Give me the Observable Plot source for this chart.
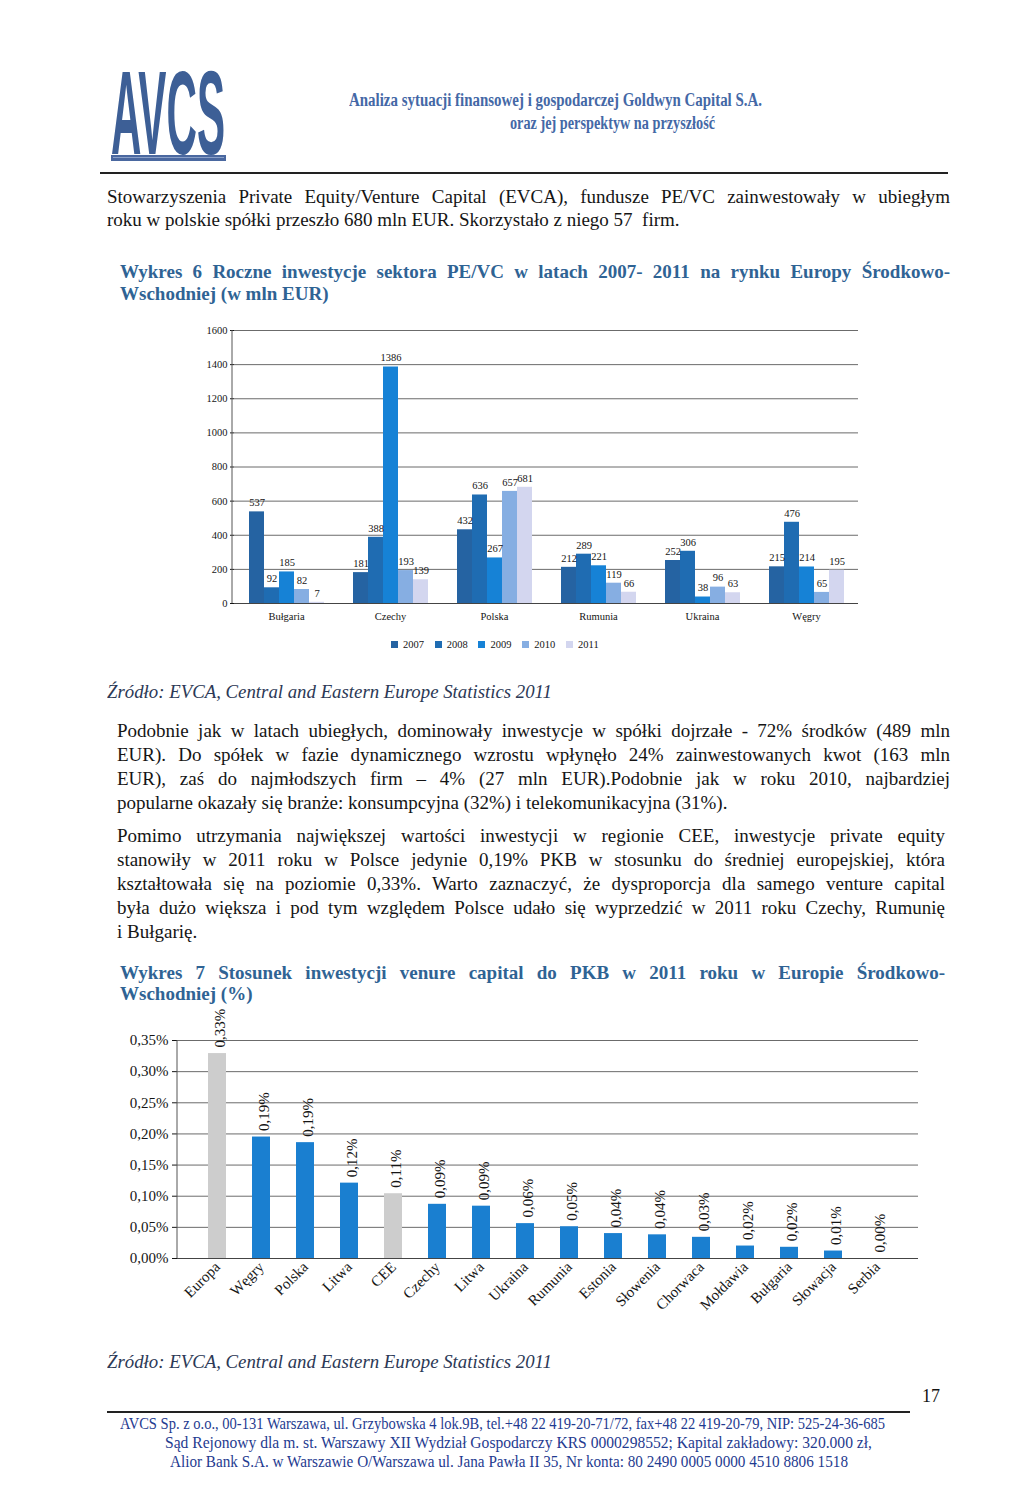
<!DOCTYPE html>
<html><head><meta charset="utf-8">
<script src="https://cdn.jsdelivr.net/npm/d3@7"></script>
<script src="https://cdn.jsdelivr.net/npm/@observablehq/plot@0.6"></script>
<style>
body{margin:0;background:#fff;}
#page{position:relative;width:1024px;height:1495px;overflow:hidden;font-family:"Liberation Serif","Times New Roman",serif;color:#151515;background:#fff;}
.abs{position:absolute;}
#legend1{position:absolute;left:300px;width:400px;top:628px;display:flex;justify-content:center;}
</style></head>
<body><div id="page"></div>
<script>
// ---------- Chart 1 data ----------
const countries = ["Bułgaria","Czechy","Polska","Rumunia","Ukraina","Węgry"];
const years = ["2007","2008","2009","2010","2011"];
const v2007 = [537,181,432,212,252,215];
const v2008 = [92,388,636,289,306,476];
const v2009 = [185,1386,267,221,38,214];
const v2010 = [82,193,657,119,96,65];
const v2011 = [7,139,681,66,63,195];
const yTicks1 = [0,200,400,600,800,1000,1200,1400,1600];
const yearColors = ["#2563a2","#1f6cb2","#1682d6","#86aee2","#d3d6ef"];

// ---------- Chart 2 data ----------
const gdpLabels = ["Europa","Węgry","Polska","Litwa","CEE","Czechy","Litwa","Ukraina","Rumunia","Estonia","Słowenia","Chorwaca","Mołdawia","Bułgaria","Słowacja","Serbia"];
const gdpValues = [0.329,0.195,0.186,0.121,0.104,0.087,0.084,0.056,0.051,0.040,0.038,0.034,0.020,0.018,0.012,0.0];
const gdpText = ["0,33%","0,19%","0,19%","0,12%","0,11%","0,09%","0,09%","0,06%","0,05%","0,04%","0,04%","0,03%","0,02%","0,02%","0,01%","0,00%"];
const aggregates = ["Europa","CEE"];
const yTicks2 = [0,0.05,0.10,0.15,0.20,0.25,0.30,0.35];

// ---------- page texts ----------
const headerLines = ["Analiza sytuacji finansowej i gospodarczej Goldwyn Capital S.A.","oraz jej perspektyw na przyszłość"];
const p1 = ["Stowarzyszenia Private Equity/Venture Capital (EVCA), fundusze PE/VC zainwestowały w ubiegłym","roku w polskie spółki przeszło 680 mln EUR. Skorzystało z niego 57  firm."];
const h6 = ["Wykres 6 Roczne inwestycje sektora PE/VC w latach 2007- 2011 na rynku Europy Środkowo-","Wschodniej (w mln EUR)"];
const src = "Źródło: EVCA, Central and Eastern Europe Statistics 2011";
const p2 = ["Podobnie jak w latach ubiegłych, dominowały inwestycje w spółki dojrzałe - 72% środków (489 mln","EUR). Do spółek w fazie dynamicznego wzrostu wpłynęło 24% zainwestowanych kwot (163 mln","EUR), zaś do najmłodszych firm – 4% (27 mln EUR).Podobnie jak w roku 2010, najbardziej","popularne okazały się branże: konsumpcyjna (32%) i telekomunikacyjna (31%)."];
const p3 = ["Pomimo utrzymania największej wartości inwestycji w regionie CEE, inwestycje private equity","stanowiły w 2011 roku w Polsce jedynie 0,19% PKB w stosunku do średniej europejskiej, która","kształtowała się na poziomie 0,33%. Warto zaznaczyć, że dysproporcja dla samego venture capital","była dużo większa i pod tym względem Polsce udało się wyprzedzić w 2011 roku Czechy, Rumunię","i Bułgarię."];
const h7 = ["Wykres 7 Stosunek inwestycji venure capital do PKB w 2011 roku w Europie Środkowo-","Wschodniej (%)"];
const footer = ["AVCS Sp. z o.o., 00-131 Warszawa, ul. Grzybowska 4 lok.9B, tel.+48 22 419-20-71/72, fax+48 22 419-20-79, NIP: 525-24-36-685","Sąd Rejonowy dla m. st. Warszawy XII Wydział Gospodarczy KRS 0000298552; Kapital zakładowy: 320.000 zł,","Alior Bank S.A. w Warszawie O/Warszawa ul. Jana Pawła II 35, Nr konta: 80 2490 0005 0000 4510 8806 1518"];

const page = document.getElementById("page");
const SERIF = '"Liberation Serif","Times New Roman",serif';
const HEAD = "#2f6394";

function line(text, o) {
  const d = document.createElement("div");
  d.textContent = text;
  Object.assign(d.style, {position:"absolute", whiteSpace:"pre", fontFamily:o.family||SERIF,
    fontSize:o.size+"px", fontWeight:o.bold?"bold":"normal", fontStyle:o.italic?"italic":"normal",
    color:o.color||"#151515", lineHeight:(o.size*1.2)+"px", top:(o.y-o.size*0.6)+"px", left:o.x+"px",
    transformOrigin:"0 50%"});
  page.appendChild(d);
  const w = d.getBoundingClientRect().width;
  if (o.mode === "justify") {
    const n = (text.match(/ /g)||[]).length, extra = o.w - w;
    if (extra >= 0 && n) d.style.wordSpacing = (extra/n)+"px";
    else if (extra < 0) d.style.transform = `scaleX(${o.w/w})`;
  } else if (o.mode === "fit") {
    d.style.transform = `scaleX(${o.w/w})`;
  }
  return d;
}
function para(lines, o) {
  lines.forEach((t,i) => line(t, {...o, y:o.y + i*o.lh, mode: i < lines.length-1 ? "justify" : "left"}));
}
function rule(x1, x2, y, h, color) {
  const d = document.createElement("div");
  Object.assign(d.style, {position:"absolute", left:x1+"px", width:(x2-x1)+"px", top:y+"px", height:h+"px", background:color});
  page.appendChild(d);
}

// ---------- header ----------
const logo = document.createElement("div");
logo.textContent = "AVCS";
Object.assign(logo.style, {position:"absolute", left:"111px", top:"55px", fontFamily:'"Liberation Sans",Arial,sans-serif',
  fontWeight:"bold", fontSize:"60px", lineHeight:"60px", color:"#3d5f96", transformOrigin:"0 0", whiteSpace:"pre"});
page.appendChild(logo);
const lw = logo.getBoundingClientRect().width;
logo.style.transform = `scale(${114/lw}, 1.97)`;
rule(111, 226, 155, 6, "#4a68a0");
rule(113, 224, 157, 1, "#8aa0c8");
line(headerLines[0], {x:349, y:100, w:413, size:18.5, bold:true, color:"#4468a6", mode:"fit"});
line(headerLines[1], {x:510, y:123, w:205, size:18.5, bold:true, color:"#4468a6", mode:"fit"});
rule(100, 948, 172, 1.5, "#222");

// ---------- texts ----------
para(p1, {x:107, y:197, w:843, size:19, lh:23});
para(h6, {x:120, y:272, w:830, size:19, lh:22, bold:true, color:HEAD});
line(src, {x:107, y:692, w:445, size:18.5, italic:true, color:"#2c3956", mode:"fit"});
para(p2, {x:117, y:731, w:833, size:19, lh:24});
para(p3, {x:117, y:836, w:828, size:19, lh:24});
para(h7, {x:120, y:973, w:825, size:19, lh:21, bold:true, color:HEAD});
line(src, {x:107, y:1362, w:445, size:18.5, italic:true, color:"#2c3956", mode:"fit"});
line("17", {x:922, y:1397, size:18});
rule(107, 910, 1411, 1.5, "#222");
line(footer[0], {x:120, y:1424, w:765, size:16.5, color:"#1f3b90", mode:"fit"});
line(footer[1], {x:165, y:1443, w:707, size:16.5, color:"#1f3b90", mode:"fit"});
line(footer[2], {x:170, y:1462, w:678, size:16.5, color:"#1f3b90", mode:"fit"});

// ---------- chart 1 ----------
const data1 = countries.flatMap((c,i) => [v2007,v2008,v2009,v2010,v2011].map((s,j) => ({country:c, year:years[j], value:s[i]})));
const chart1 = Plot.plot({
  width:675, height:308, marginLeft:37, marginRight:10, marginTop:10, marginBottom:25,
  style:{fontFamily:SERIF, fontSize:"10.5px", color:"#151515", background:"transparent", overflow:"visible"},
  facet:{data:data1, x:"country"},
  fx:{domain:countries, padding:0, label:null, tickSize:0, tickPadding:9, axis:"bottom"},
  x:{domain:years, paddingInner:0, paddingOuter:0.8, axis:null},
  y:{domain:[0,1600], ticks:yTicks1, tickFormat:d => String(d), label:null, tickSize:4, tickPadding:3},
  color:{domain:years, range:yearColors},
  marks:[
    Plot.ruleY(yTicks1, {stroke:"#5a5a5a", strokeWidth:0.9}),
    Plot.barY(data1, {x:"year", y:"value", fill:"year"}),
    Plot.text(data1, {x:"year", y:"value", text:d => String(d.value), dy:-9, fontSize:10.5}),
    Plot.ruleY([0], {stroke:"#444"})
  ]
});
d3.select(chart1).append("line").attr("x1",37).attr("x2",37).attr("y1",10).attr("y2",283).attr("stroke","#555");
const c1 = document.createElement("div");
c1.className = "abs"; c1.style.left = "195px"; c1.style.top = "320px";
c1.appendChild(chart1); page.appendChild(c1);

const leg = document.createElement("div");
leg.id = "legend1";
leg.appendChild(Plot.legend({color:{domain:years, range:yearColors}, legend:"swatches", swatchSize:7,
  style:{fontFamily:SERIF, fontSize:"10.5px", color:"#151515"}}));
page.appendChild(leg);

// ---------- chart 2 ----------
const data2 = gdpLabels.map((n,i) => ({i, name:n, value:gdpValues[i], label:gdpText[i]}));
const chart2 = Plot.plot({
  width:820, height:340, marginLeft:67, marginRight:12, marginTop:50, marginBottom:72,
  style:{fontFamily:SERIF, fontSize:"15px", color:"#151515", background:"transparent", overflow:"visible"},
  x:{domain:d3.range(gdpLabels.length), padding:0.59, tickFormat:i => gdpLabels[i], tickRotate:-45, tickSize:0, tickPadding:6, label:null},
  y:{domain:[0,0.35], ticks:yTicks2, tickFormat:d => d.toFixed(2).replace(".", ",") + "%", label:null, tickSize:5, tickPadding:4},
  marks:[
    Plot.ruleY(yTicks2, {stroke:"#5a5a5a", strokeWidth:0.9}),
    Plot.barY(data2, {x:"i", y:"value", fill:d => aggregates.includes(d.name) ? "#cdcdcd" : "#1a7fd0"}),
    Plot.text(data2, {x:"i", y:"value", text:"label", rotate:-90, textAnchor:"start", dy:-6, dx:3, fontSize:15}),
    Plot.ruleY([0], {stroke:"#444"})
  ]
});
d3.select(chart2).append("line").attr("x1",67).attr("x2",67).attr("y1",50).attr("y2",268).attr("stroke","#555");
const c2 = document.createElement("div");
c2.className = "abs"; c2.style.left = "110px"; c2.style.top = "990px";
c2.appendChild(chart2); page.appendChild(c2);
</script>
</body></html>
